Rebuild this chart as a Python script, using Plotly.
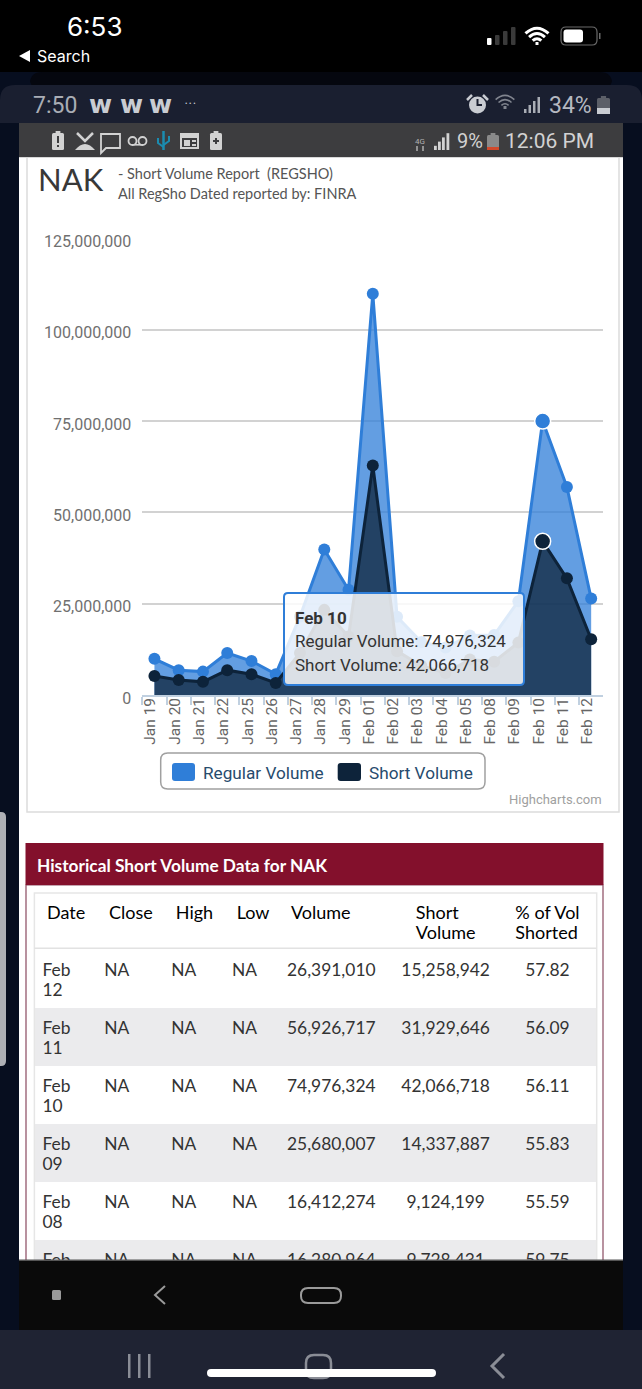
import plotly.graph_objects as go

W, H = 642, 1389

# chart data (last rows are from the table, the rest)
dates = ['Jan 19', 'Jan 20', 'Jan 21', 'Jan 22', 'Jan 25', 'Jan 26', 'Jan 27', 'Jan 28', 'Jan 29', 'Feb 01',
         'Feb 02', 'Feb 03', 'Feb 04', 'Feb 05', 'Feb 08', 'Feb 09', 'Feb 10', 'Feb 11', 'Feb 12']
regular_volume = [9900000, 6800000, 6400000, 11500000, 9300000, 5700000, 21500000, 39800000, 28800000, 109800000,
                  21400000, 14500000, 13000000, 16280964, 16412274, 25680007, 74976324, 56926717, 26391010]
short_volume = [5200000, 4100000, 3600000, 6800000, 5700000, 3300000, 11500000, 23300000, 16000000, 62800000,
                12000000, 8000000, 6000000, 9728431, 9124199, 14337887, 42066718, 31929646, 15258942]
y_ticks = [0, 25000000, 50000000, 75000000, 100000000, 125000000]
hover_date = 'Feb 10'

# table data
table_head = ['Date', 'Close', 'High', 'Low', 'Volume', 'Short<br>Volume', '% of Vol<br>Shorted']
table_date = ['Feb<br>12', 'Feb<br>11', 'Feb<br>10', 'Feb<br>09', 'Feb<br>08', 'Feb<br>05']
table_close = ['NA'] * 6
table_high = ['NA'] * 6
table_low = ['NA'] * 6
table_volume = ['26,391,010', '56,926,717', '74,976,324', '25,680,007', '16,412,274', '16,280,964']
table_short = ['15,258,942', '31,929,646', '42,066,718', '14,337,887', '9,124,199', '9,728,431']
table_pct = ['57.82', '56.09', '56.11', '55.83', '55.59', '59.75']

BLUE = '#2f7ed8'
NAVY = '#0d233a'
GUTTER = '#070e1f'
BAR = '#1a1f30'
GRAY_BAR = '#3d3d3f'
ICON = '#c9ccd2'


def px(x):
    return x / W


def py(y):
    return 1 - y / H


shapes = []
annotations = []


def rect(x0, y0, x1, y1, color, layer='above', line=None, width=0):
    shapes.append(dict(type='rect', xref='paper', yref='paper', x0=px(x0), x1=px(x1), y0=py(y0), y1=py(y1),
                       fillcolor=color, layer=layer, line=dict(color=line or color, width=width)))


def pts(p):
    return f'{px(p[0]):.5f},{py(p[1]):.5f}'


def path(d, fill=None, line=None, width=0, layer='above'):
    # d is a list of (cmd, point, point...) in pixels
    s = ''
    for seg in d:
        s += seg[0] + ' '.join(pts(p) for p in seg[1:]) + ' '
    shapes.append(dict(type='path', xref='paper', yref='paper', path=s.strip(), layer=layer,
                       fillcolor=fill or 'rgba(0,0,0,0)',
                       line=dict(color=line or 'rgba(0,0,0,0)', width=width)))


def rrect(x0, y0, x1, y1, r, fill=None, line=None, width=0, layer='above'):
    path([('M', (x0 + r, y0)), ('L', (x1 - r, y0)), ('Q', (x1, y0), (x1, y0 + r)),
          ('L', (x1, y1 - r)), ('Q', (x1, y1), (x1 - r, y1)),
          ('L', (x0 + r, y1)), ('Q', (x0, y1), (x0, y1 - r)),
          ('L', (x0, y0 + r)), ('Q', (x0, y0), (x0 + r, y0)), ('Z',)],
         fill=fill, line=line, width=width, layer=layer)


def poly(points, fill=None, line=None, width=0, close=False):
    d = [('M', points[0])] + [('L', p) for p in points[1:]]
    if close:
        d.append(('Z',))
    path(d, fill=fill, line=line, width=width)


def wifi(cx, cy, radii, color, width):
    for r in radii:
        path([('M', (cx - r * 0.72, cy - r * 0.72)), ('Q', (cx, cy - r * 1.38), (cx + r * 0.72, cy - r * 0.72))],
             line=color, width=width)
    rect(cx - 1.5, cy - 3, cx + 1.5, cy, color)


def battery(x0, y0, x1, y1, color, fill_from=None, fill_color=None):
    rrect(x0, y0 + 2, x1, y1, 1.5, fill=color)
    rect(x0 + (x1 - x0) * 0.3, y0, x1 - (x1 - x0) * 0.3, y0 + 2, color)
    if fill_from is not None:
        rect(x0, fill_from, x1, y1, fill_color)


def txt(x, y, s, size, color, family='Roboto', anchor='left'):
    annotations.append(dict(x=px(x), y=py(y), xref='paper', yref='paper', text=s, showarrow=False,
                            xanchor=anchor, yanchor='middle', borderpad=0,
                            font=dict(size=size, color=color, family=family)))


def cell(s, size):
    # table row height follows font.size, so the drawn size is set per line
    lines = s.split('<br>')
    if len(lines) == 1:
        lines.append('\u00a0')
    return '<br>'.join(f'<span style="font-size:{size}px">{p}</span>' for p in lines)


# ---- page behind the chart
rect(19, 123, 623, 1260, '#ffffff', layer='below')
rect(27, 157, 619, 812, '#ffffff', layer='below', line='#dcdcdc', width=1.5)
rect(26, 885, 603, 1300, '#ffffff', layer='below', line='#8a4a60', width=1.2)
rect(25.5, 843, 603.5, 885, '#83102c', layer='below')
rrect(-4, 812, 6, 1066, 5, fill='#aeb0b5', layer='below')

# ---- top status bars
rect(0, 0, W, 72, '#000000')
rrect(30, 72, 612, 90, 12, fill='#05070f')
path([('M', (0, 123)), ('L', (0, 100)), ('Q', (0, 85), (15, 85)), ('L', (627, 85)), ('Q', (642, 85), (642, 100)),
      ('L', (642, 123)), ('Z',)], fill=BAR)
rect(19, 123, 623, 157, GRAY_BAR)
rect(19, 157, 623, 158, '#d8d8d8')

txt(66, 26, '6:53', 26, '#ffffff', 'Inter')
poly([(19, 56), (30, 50), (30, 62)], fill='#ffffff', close=True)
txt(35.5, 56, 'Search', 16, '#ffffff', 'Inter')

for i, (bx, top, c) in enumerate([(487, 38, '#ffffff'), (495, 35, '#3a3a3a'), (503, 31, '#3a3a3a'), (511, 27, '#3a3a3a')]):
    rrect(bx, top, bx + 4.5, 45, 1, fill=c)
wifi(537, 45, [6, 11, 16], '#ffffff', 3)
rrect(561, 27, 597, 45, 5, line='#6a6a6a', width=1.2)
rrect(563.5, 29.5, 583, 42.5, 3, fill='#ffffff')
rect(599, 33, 600.5, 39, '#6a6a6a')

txt(32, 105, '7:50', 23, '#a9adb5')
for wx in (88, 119, 148):
    txt(wx, 104, '<b>w</b>', 25, '#c9ccd2', 'DejaVu Sans')
txt(184, 104, '• • •', 7, '#c9ccd2')

# alarm clock
shapes.append(dict(type='circle', xref='paper', yref='paper', x0=px(469), x1=px(486), y0=py(96.5), y1=py(113.5),
                   fillcolor=ICON, line=dict(color=ICON, width=0), layer='above'))
poly([(467, 100), (472, 95)], line=ICON, width=2.5)
poly([(488, 100), (483, 95)], line=ICON, width=2.5)
poly([(477.5, 99), (477.5, 105), (482, 105)], line=BAR, width=2)
wifi(505, 109, [5, 9, 13], '#81858f', 1.6)
for i, bx in enumerate([524, 528.5, 533, 537.5]):
    rect(bx, 113 - 4 * (i + 1), bx + 2.5, 113, '#a9adb5')
txt(548, 105, '34%', 23, '#b5b8c0')
battery(597, 96, 610, 114, '#5c5f68', 108, '#c9ccd2')

# second status bar
battery(52, 131, 64, 150, '#d2d2d2')
rect(57, 136, 59, 143, GRAY_BAR)
rect(57, 145, 59, 147, GRAY_BAR)
poly([(77, 133), (85, 141), (93, 133)], line='#d2d2d2', width=2.5)
path([('M', (75, 150)), ('Q', (85, 138), (95, 150)), ('L', (91, 150)), ('L', (79, 150)), ('Z',)], fill='#d2d2d2')
poly([(101, 134), (120, 134), (120, 148), (106, 148), (101, 153)], line='#d2d2d2', width=1.8, close=True)
for cx in (132.5, 142.5):
    shapes.append(dict(type='circle', xref='paper', yref='paper', x0=px(cx - 4), x1=px(cx + 4), y0=py(137), y1=py(145),
                       line=dict(color='#d2d2d2', width=1.8), layer='above'))
rect(132, 144, 143, 145.6, '#d2d2d2')
poly([(163.5, 131), (163.5, 150)], line='#1b8cb0', width=2.5)
poly([(158, 138), (158, 143), (163.5, 147)], line='#1b8cb0', width=2)
poly([(169, 136), (169, 141), (163.5, 145)], line='#1b8cb0', width=2)
rect(180, 133, 199, 149, '#d2d2d2')
rect(182, 138, 197, 147, GRAY_BAR)
rect(184, 140, 190, 146, '#d2d2d2')
rect(192, 140, 196, 142, '#d2d2d2')
rect(192, 144, 196, 146, '#d2d2d2')
battery(210, 131, 222, 150, '#d2d2d2')
rect(213, 140, 219, 142, GRAY_BAR)
rect(215, 138, 217, 144, GRAY_BAR)

txt(420, 141, '4G', 8, '#b0b0b0', anchor='center')
poly([(417, 146), (417, 151)], line='#b0b0b0', width=1.5)
poly([(423, 146), (423, 151)], line='#b0b0b0', width=1.5)
for i, bx in enumerate([434, 438, 442, 446.5]):
    rect(bx, 150 - 4.2 * (i + 1), bx + 2.8, 150, '#d2d2d2')
txt(456, 141, '9%', 20, '#d2d2d2')
battery(487, 133, 499, 150, '#8a8a8a', 147, '#d24a2c')
txt(504, 141, '12:06 PM', 21, '#d2d2d2')

# ---- chart headings
txt(37, 179, 'NAK', 31, '#383838', 'Lato')
txt(117, 173, '- Short Volume Report  (REGSHO)', 14.5, '#555555', 'Lato')
txt(117, 194, 'All RegSho Dated reported by: FINRA', 14.5, '#555555', 'Lato')
txt(603, 799, 'Highcharts.com', 13, '#a0a0a0', anchor='right')

# ---- legend
rrect(160.7, 753, 485, 789, 7, fill='#ffffff', line='#a0a0a0', width=1.5)
rrect(172, 763, 195, 781, 3, fill=BLUE)
rrect(337.7, 763, 361, 781, 3, fill=NAVY)
txt(202, 772.5, 'Regular Volume', 17.2, '#274b6d')
txt(367.5, 772.5, 'Short Volume', 17.2, '#274b6d')

# ---- tooltip
hi = dates.index(hover_date)
rrect(284, 593, 524, 685, 4, fill='rgba(255,255,255,0.84)', line=BLUE, width=2)
txt(294, 618, f'<b>{hover_date}</b>', 17, '#333333')
txt(294, 641, f'Regular Volume: {regular_volume[hi]:,}', 17, '#333333')
txt(294, 665, f'Short Volume: {short_volume[hi]:,}', 17, '#333333')

# ---- table title
txt(36, 865, '<b>Historical Short Volume Data for NAK</b>', 17.3, '#ffffff', 'Lato')

# ---- table borders
rect(34.4, 893, 596.7, 1300, 'rgba(0,0,0,0)', line='#e6e6e6', width=1.5)
rect(34.4, 947.5, 596.7, 949, '#e2e2e2')

# ---- bottom bars (sit over the end of the table)
rect(0, 1260, 19, 1330, GUTTER)
rect(623, 1260, W, 1330, GUTTER)
rect(19, 1260, 623, 1330, '#0a0a0a')
rect(19, 1259.5, 623, 1261, '#555555')
rect(0, 1330, W, H, '#1f2333')
rrect(52, 1290, 61, 1300, 1.5, fill='#9a9a9a')
poly([(165, 1286), (155, 1295), (165, 1304)], line='#9a9a9a', width=2)
rrect(301, 1288, 341, 1303, 7, line='#9a9a9a', width=2)
for bx in (128, 138, 148):
    rect(bx, 1354, bx + 2.5, 1378, '#8a8d96')
rrect(306, 1355, 331, 1378, 8, line='#8a8d96', width=2.5)
rrect(207, 1369, 436, 1377, 4, fill='#ffffff')
poly([(504, 1354), (492, 1366), (504, 1378)], line='#8a8d96', width=3)

fig = go.Figure()

for name, vals, color in [('Regular Volume', regular_volume, BLUE), ('Short Volume', short_volume, NAVY)]:
    rgb = tuple(int(color[i:i + 2], 16) for i in (1, 3, 5))
    sizes = [16 if d == hover_date else 12 for d in dates]
    fig.add_trace(go.Scatter(
        x=dates,
        y=vals,
        name=name,
        mode='lines+markers',
        line=dict(color=color, width=3),
        marker=dict(color=color, size=sizes, opacity=1,
                    line=dict(color='#ffffff', width=[1.5 if d == hover_date else 0 for d in dates])),
        fill='tozeroy',
        fillcolor=f'rgba({rgb[0]},{rgb[1]},{rgb[2]},0.75)',
        cliponaxis=False,
        hoverinfo='skip'
    ))

row_fill = [['#ffffff', '#ebebed'] * 3] * 7

fig.add_trace(go.Table(
    domain=dict(x=[px(34.4), px(596.7)], y=[py(1320), py(893)]),
    columnwidth=[62, 67, 61, 55, 114, 106, 98],
    header=dict(
        values=[cell(f'\u00a0{h}', 18) for h in table_head[:5]] + [cell(h, 18) for h in table_head[5:]],
        align=['left', 'left', 'left', 'left', 'left', 'center', 'center'],
        font=dict(family='Lato', size=15, color='#000000'),
        fill_color='#ffffff',
        line=dict(color='#ffffff', width=1),
        height=55
    ),
    cells=dict(
        values=[[cell(v, 17.4) for v in col]
                for col in (table_date, table_close, table_high, table_low, table_volume, table_short, table_pct)],
        align=['left', 'left', 'left', 'left', 'left', 'center', 'center'],
        font=dict(family='Lato', size=16, color='#333333'),
        fill_color=row_fill,
        line=dict(color=row_fill, width=1),
        height=58
    )
))

fig.update_layout(
    width=W,
    height=H,
    margin=dict(l=0, r=0, t=0, b=0, autoexpand=False),
    paper_bgcolor=GUTTER,
    plot_bgcolor='rgba(0,0,0,0)',
    showlegend=False,
    font=dict(family='Roboto'),
    shapes=shapes,
    annotations=annotations,
    xaxis=dict(
        domain=[px(142.3), px(603.3)],
        type='category',
        categoryorder='array',
        categoryarray=dates,
        range=[-0.5, len(dates) - 0.5],
        tickson='boundaries',
        ticks='outside',
        ticklen=8,
        tickcolor='#c0d0e0',
        tickwidth=1.5,
        showline=True,
        linecolor='#c0d0e0',
        linewidth=1.5,
        showgrid=False,
        tickangle=-90,
        tickfont=dict(size=15.5, color='#666666', family='Roboto'),
        ticklabelshift=-4,
        ticklabelstandoff=-5,
        zeroline=False
    ),
    yaxis=dict(
        domain=[py(695), py(238.3)],
        range=[0, 125000000],
        tickmode='array',
        tickvals=y_ticks,
        tickformat=',d',
        tickfont=dict(size=16, color='#707070', family='Roboto'),
        ticklabelstandoff=10,
        ticklabelshift=3,
        gridcolor='#d2d2d2',
        gridwidth=2,
        zeroline=False,
        showline=False,
        ticks=''
    )
)

fig.write_html("out.html", config=dict(displayModeBar=False), post_script="document.body.style.margin='0';")
